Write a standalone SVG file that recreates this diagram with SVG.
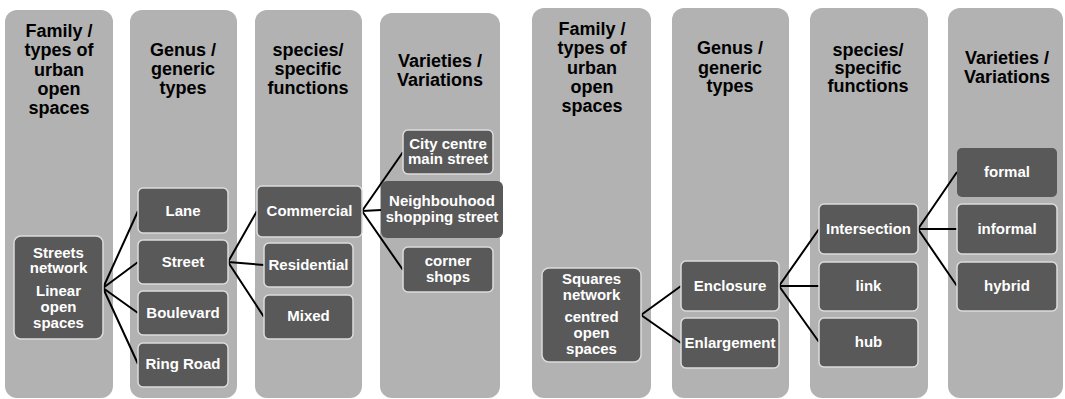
<svg xmlns="http://www.w3.org/2000/svg" width="1065" height="399" viewBox="0 0 1065 399">
<style>
.col{fill:#b2b2b2;}
.hd{font-family:"Liberation Sans",Arial,sans-serif;font-weight:bold;font-size:18px;fill:#000;text-anchor:middle;}
.nd{fill:#595959;stroke:#dcdcdc;stroke-width:1.5;}
.nd2{fill:#595959;}
.tx{font-family:"Liberation Sans",Arial,sans-serif;font-weight:bold;font-size:15px;fill:#fff;text-anchor:middle;}
.cn{stroke:#000;stroke-width:2;fill:none;}
</style>
<rect width="1065" height="399" fill="#fff"/>
<g id="columns">
<rect class="col" x="5" y="10" width="108" height="388" rx="12"/>
<rect class="col" x="130" y="10" width="107" height="388" rx="12"/>
<rect class="col" x="255" y="10" width="107" height="388" rx="12"/>
<rect class="col" x="380" y="13" width="120" height="385" rx="12"/>
<rect class="col" x="532" y="8" width="119" height="390" rx="12"/>
<rect class="col" x="672" y="8" width="117" height="390" rx="12"/>
<rect class="col" x="810" y="8" width="118" height="390" rx="12"/>
<rect class="col" x="948" y="8" width="115" height="390" rx="12"/>
</g>
<g id="headers">
<text class="hd" x="59"><tspan x="59" y="37">Family /</tspan><tspan x="59" y="56">types of</tspan><tspan x="59" y="76">urban</tspan><tspan x="59" y="95">open</tspan><tspan x="59" y="114">spaces</tspan></text>
<text class="hd"><tspan x="183" y="56">Genus /</tspan><tspan x="183" y="75">generic</tspan><tspan x="183" y="94">types</tspan></text>
<text class="hd"><tspan x="308" y="56">species/</tspan><tspan x="308" y="75">specific</tspan><tspan x="308" y="94">functions</tspan></text>
<text class="hd"><tspan x="440" y="67">Varieties /</tspan><tspan x="440" y="86">Variations</tspan></text>
<text class="hd"><tspan x="592" y="35">Family /</tspan><tspan x="592" y="54">types of</tspan><tspan x="592" y="74">urban</tspan><tspan x="592" y="93">open</tspan><tspan x="592" y="112">spaces</tspan></text>
<text class="hd"><tspan x="730" y="54">Genus /</tspan><tspan x="730" y="74">generic</tspan><tspan x="730" y="92">types</tspan></text>
<text class="hd"><tspan x="868" y="56">species/</tspan><tspan x="868" y="74">specific</tspan><tspan x="868" y="92">functions</tspan></text>
<text class="hd"><tspan x="1007" y="64">Varieties /</tspan><tspan x="1007" y="83">Variations</tspan></text>
</g>
<g id="connectors">
<path class="cn" d="M103,288 L138,211 M103,288 L138,262 M103,288 L138,313 M103,288 L138,364"/>
<path class="cn" d="M228,262 L257,211 M228,262 L264,265 M228,262 L264,317"/>
<path class="cn" d="M362,211 L403,152 M362,211 L381,210 M362,211 L403,270"/>
<path class="cn" d="M641,315 L681,286 M641,315 L681,343"/>
<path class="cn" d="M779,286 L819,229 M779,286 L819,286 M779,286 L819,342"/>
<path class="cn" d="M918,229 L957,172 M918,229 L957,229 M918,229 L957,286"/>
</g>
<g id="n-streets"><rect class="nd" x="14" y="236" width="89" height="103" rx="7"/><text class="tx"><tspan x="58.5" y="258">Streets</tspan><tspan x="58.5" y="273">network</tspan><tspan x="58.5" y="296">Linear</tspan><tspan x="58.5" y="312">open</tspan><tspan x="58.5" y="328">spaces</tspan></text></g>
<g id="n-lane"><rect class="nd" x="138" y="188" width="90" height="45" rx="5"/><text class="tx" x="183" y="216">Lane</text></g>
<g id="n-street"><rect class="nd" x="138" y="240" width="90" height="44" rx="5"/><text class="tx" x="183" y="267">Street</text></g>
<g id="n-boulevard"><rect class="nd" x="138" y="291" width="90" height="44" rx="5"/><text class="tx" x="183" y="318">Boulevard</text></g>
<g id="n-ringroad"><rect class="nd" x="138" y="343" width="90" height="44" rx="5"/><text class="tx" x="183" y="369">Ring Road</text></g>
<g id="n-commercial"><rect class="nd" x="257" y="186" width="105" height="51" rx="5"/><text class="tx" x="309.5" y="216">Commercial</text></g>
<g id="n-residential"><rect class="nd" x="264" y="243" width="89" height="44" rx="5"/><text class="tx" x="308.5" y="270">Residential</text></g>
<g id="n-mixed"><rect class="nd" x="264" y="295" width="89" height="44" rx="5"/><text class="tx" x="308.5" y="321">Mixed</text></g>
<g id="n-citycentre"><rect class="nd" x="403" y="130" width="90" height="44" rx="5"/><text class="tx"><tspan x="448" y="149">City centre</tspan><tspan x="448" y="164">main street</tspan></text></g>
<g id="n-neighbourhood"><rect class="nd2" x="381" y="181" width="122" height="57" rx="6"/><text class="tx"><tspan x="442" y="206">Neighbouhood</tspan><tspan x="442" y="222">shopping street</tspan></text></g>
<g id="n-corner"><rect class="nd" x="403" y="247" width="90" height="45" rx="5"/><text class="tx"><tspan x="448" y="266">corner</tspan><tspan x="448" y="282">shops</tspan></text></g>
<g id="n-squares"><rect class="nd" x="542" y="268" width="99" height="94" rx="7"/><text class="tx"><tspan x="591.5" y="284">Squares</tspan><tspan x="591.5" y="300">network</tspan><tspan x="591.5" y="322">centred</tspan><tspan x="591.5" y="338">open</tspan><tspan x="591.5" y="354">spaces</tspan></text></g>
<g id="n-enclosure"><rect class="nd" x="681" y="261" width="98" height="50" rx="5"/><text class="tx" x="730" y="291">Enclosure</text></g>
<g id="n-enlargement"><rect class="nd" x="681" y="318" width="98" height="50" rx="5"/><text class="tx" x="730" y="348">Enlargement</text></g>
<g id="n-intersection"><rect class="nd" x="819" y="204" width="99" height="50" rx="5"/><text class="tx" x="868.5" y="234">Intersection</text></g>
<g id="n-link"><rect class="nd" x="819" y="262" width="99" height="49" rx="5"/><text class="tx" x="868.5" y="291">link</text></g>
<g id="n-hub"><rect class="nd" x="819" y="318" width="99" height="49" rx="5"/><text class="tx" x="868.5" y="347">hub</text></g>
<g id="n-formal"><rect class="nd2" x="957" y="148" width="100" height="49" rx="5"/><text class="tx" x="1007" y="177">formal</text></g>
<g id="n-informal"><rect class="nd" x="957" y="204" width="100" height="50" rx="5"/><text class="tx" x="1007" y="234">informal</text></g>
<g id="n-hybrid"><rect class="nd" x="957" y="262" width="100" height="49" rx="5"/><text class="tx" x="1007" y="291">hybrid</text></g>
</svg>
